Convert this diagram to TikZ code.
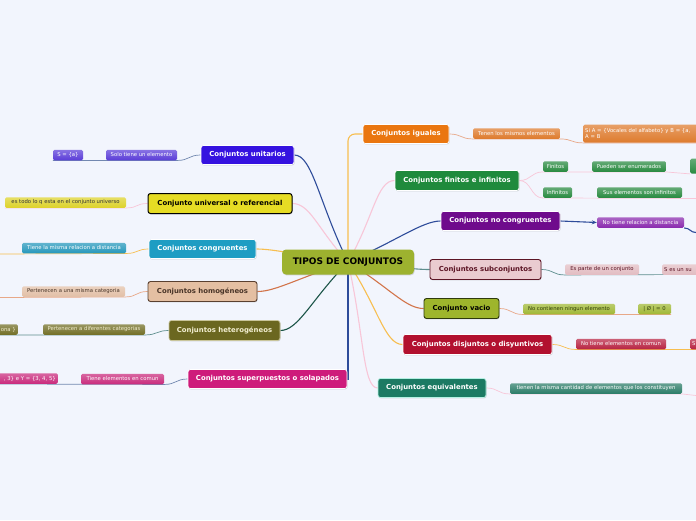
\documentclass[tikz,border=0pt]{standalone}
\usepackage{fontspec}
\newfontfamily\mapfont{DejaVu Sans}
\usetikzlibrary{positioning, arrows.meta, shadows}

\definecolor{bgc}{HTML}{F2F5FD}
\definecolor{rootc}{HTML}{9DB22F}
\definecolor{unitc}{HTML}{3512E0}
\definecolor{unitl}{HTML}{5A3CD8}
\definecolor{univc}{HTML}{E6DC24}
\definecolor{univl}{HTML}{DDD22A}
\definecolor{congc}{HTML}{1E9DC3}
\definecolor{congl}{HTML}{2597BB}
\definecolor{homoc}{HTML}{E4BFA2}
\definecolor{homol}{HTML}{E2BFA6}
\definecolor{homod}{HTML}{5A4030}
\definecolor{homot}{HTML}{4A3528}
\definecolor{hetec}{HTML}{6B6720}
\definecolor{hetel}{HTML}{726E26}
\definecolor{hetet}{HTML}{F2EED0}
\definecolor{supc}{HTML}{CE1B7B}
\definecolor{supl}{HTML}{C92A7C}
\definecolor{igualc}{HTML}{EA7610}
\definecolor{iguall}{HTML}{DE7A2C}
\definecolor{finc}{HTML}{1F8A3C}
\definecolor{finl}{HTML}{288A40}
\definecolor{noc}{HTML}{6F0B8C}
\definecolor{nol}{HTML}{8A2AAE}
\definecolor{subc}{HTML}{EACBD0}
\definecolor{subl}{HTML}{E2BCC2}
\definecolor{subd}{HTML}{5C1525}
\definecolor{vacc}{HTML}{9EB52C}
\definecolor{vacl}{HTML}{A0B834}
\definecolor{vacd}{HTML}{2E3A0C}
\definecolor{vact}{HTML}{33400C}
\definecolor{disc}{HTML}{B2102F}
\definecolor{disl}{HTML}{B82342}
\definecolor{equc}{HTML}{1C7A63}
\definecolor{equl}{HTML}{2B7C68}
\definecolor{equd}{HTML}{B4F0E2}
\definecolor{lblue}{HTML}{2E4C9A}
\definecolor{lpink}{HTML}{F8C6D8}
\definecolor{lyell}{HTML}{F7BE50}
\definecolor{lbrown}{HTML}{D2744A}
\definecolor{lteal}{HTML}{1C5548}
\definecolor{lgray}{HTML}{5E8E8E}
\definecolor{tblue}{HTML}{7288B0}
\definecolor{tpeach}{HTML}{E8A888}

\pgfdeclarelayer{bg}
\pgfdeclarelayer{lines}
\pgfsetlayers{bg,lines,main}

\tikzset{
  root/.style={rectangle, rounded corners=4pt, fill=rootc, inner sep=0pt, minimum width=132pt, minimum height=25pt, font=\mapfont\bfseries\fontsize{9}{10}\selectfont, drop shadow={shadow xshift=0.6pt, shadow yshift=-0.9pt, opacity=0.3}},
  topic/.style={rectangle, rounded corners=2.5pt, draw=white, line width=0.7pt, inner sep=0pt, text=white, font=\mapfont\bfseries\fontsize{6.9}{8}\selectfont, drop shadow={shadow xshift=0.6pt, shadow yshift=-0.9pt, opacity=0.3}},
  leaf/.style={rectangle, rounded corners=1.5pt, inner xsep=2pt, inner ysep=0pt, minimum height=10.5pt, text=white, font=\mapfont\fontsize{5.3}{6}\selectfont, top color=#1!72!white, bottom color=#1},
  link/.style={line width=1.1pt, draw=#1},
  twig/.style={line width=0.7pt, draw=#1}
}

\begin{document}
\begin{tikzpicture}[x=1pt, y=-1pt]
  \useasboundingbox (0,-1.5) rectangle (696,518.5);
  \begin{pgfonlayer}{bg}
    \fill[bgc] (0,-1.5) rectangle (696,518.5);
  \end{pgfonlayer}

  \node[root] (root) at (348,260.5) {TIPOS DE CONJUNTOS};

  \node[topic, fill=unitc, minimum width=93pt, minimum height=19pt] (unit) at (247.5,153.5) {Conjuntos unitarios};
  \node[leaf=unitl, minimum width=71pt] (unitA) at (141.5,153.5) {Solo tiene un elemento};
  \node[leaf=unitl, minimum width=30pt] (unitB) at (68,153.5) {S = \{a\}};

  \node[topic, fill=univc, draw=black, line width=1pt, text=black, minimum width=144pt, minimum height=20pt] (univ) at (220,202) {Conjunto universal o referencial};
  \node[leaf=univl, text=black!80, minimum width=121pt] (univA) at (65.5,201) {es todo lo q esta en el conjunto universo};

  \node[topic, fill=congc, minimum width=107pt, minimum height=19pt] (cong) at (202.5,247.5) {Conjuntos congruentes};
  \node[leaf=congl, minimum width=104pt] (congA) at (74,246.5) {Tiene la misma relacion a distancia};

  \node[topic, fill=homoc, draw=homod, line width=0.9pt, text=homot, minimum width=109pt, minimum height=20pt] (homo) at (202.5,290) {Conjuntos homogéneos};
  \node[leaf=homol, text=homot, minimum width=103pt] (homoA) at (73.5,290) {Pertenecen a una misma categoria};

  \node[topic, fill=hetec, draw=hetet!70!hetec, text=hetet, minimum width=111pt, minimum height=20pt] (hete) at (224.5,329) {Conjuntos heterogéneos};
  \node[leaf=hetel, text=hetet, minimum width=102pt] (heteA) at (94,328) {Pertenecen a diferentes categorias};
  \node[leaf=hetel, text=hetet, anchor=east, text width=36pt, align=right] (heteB) at (18,328) {ona \}};

  \node[topic, fill=supc, minimum width=159pt, minimum height=19pt] (super) at (267.5,377.5) {Conjuntos superpuestos o solapados};
  \node[leaf=supl, minimum width=83pt] (superA) at (122.5,377.5) {Tiene elementos en comun};
  \node[leaf=supl, anchor=east, text width=80pt, align=right] (superB) at (58,377) {, 3\} e Y = \{3, 4, 5\}};

  \node[topic, fill=igualc, minimum width=86pt, minimum height=19pt] (igual) at (406,132.5) {Conjuntos iguales};
  \node[leaf=iguall, minimum width=87pt] (igualA) at (516.5,132) {Tenen los mismos elementos};
  \node[leaf=iguall, anchor=north west, text width=150pt, align=left, minimum height=18pt] (igualB) at (583,123) {Si A = \{Vocales del alfabeto\} y B = \{a,\\A = B};

  \node[topic, fill=finc, minimum width=124pt, minimum height=20pt] (fin) at (457,179) {Conjuntos finitos e infinitos};
  \node[leaf=finl, minimum width=25pt] (finA) at (555.5,165) {Finitos};
  \node[leaf=finl, minimum width=74pt] (finB) at (629,165) {Pueden ser enumerados};
  \node[leaf=finl, anchor=north west, minimum width=24pt, minimum height=15pt] (finC) at (690,157) {};
  \node[leaf=finl, minimum width=29pt] (infA) at (557.5,191) {Infinitos};
  \node[leaf=finl, minimum width=85pt] (infB) at (639.5,191) {Sus elementos son infinitos};

  \node[topic, fill=noc, minimum width=119pt, minimum height=19pt] (nocong) at (500.5,219.5) {Conjuntos no congruentes};
  \node[leaf=nol, minimum width=87pt] (nocongA) at (640.5,221) {No tiene relacion a distancia};

  \node[topic, fill=subc, draw=subd, line width=0.9pt, text=subd, minimum width=111pt, minimum height=20pt] (subc) at (485.5,268) {Conjuntos subconjuntos};
  \node[leaf=subl, text=subd, minimum width=74pt] (subcA) at (602,268) {Es parte de un conjunto};
  \node[leaf=subl, text=subd, anchor=west, text width=46pt, align=left] (subcB) at (662,268) {S es un su};

  \node[topic, fill=vacc, draw=vacd, line width=0.9pt, text=black, minimum width=75pt, minimum height=20pt] (vac) at (461.5,307) {Conjunto vacio};
  \node[leaf=vacl, text=vact, minimum width=92pt] (vacA) at (569,307.5) {No contienen ningun elemento};
  \node[leaf=vacl, text=vact, minimum width=33pt] (vacB) at (654.5,307.5) {| Ø | = 0};

  \node[topic, fill=disc, minimum width=149pt, minimum height=20pt] (dis) at (477.5,343) {Conjuntos disjuntos o disyuntivos};
  \node[leaf=disl, minimum width=90pt] (disA) at (621,342.5) {No tiene elementos en comun};
  \node[leaf=disl, anchor=west, text width=20pt, align=left] (disB) at (690,342.5) {S};

  \node[topic, fill=equc, draw=equd, minimum width=108pt, minimum height=19pt] (equ) at (432,386.5) {Conjuntos equivalentes};
  \node[leaf=equl, minimum width=172pt] (equA) at (596,387) {tienen la misma cantidad de elementos que los constituyen};

  \coordinate (congE) at (0,252.5);
  \coordinate (homoE) at (0,296);
  \coordinate (nocongE) at (696,231);
  \coordinate (subcE) at (696,273);
  \coordinate (infE) at (696,197);
  \coordinate (equE) at (696,394);

  \begin{pgfonlayer}{lines}
    \draw[link=lblue] (root.center) .. controls +(-29,-59) and +(18,0) .. (unit.east);
    \draw[link=lpink] (root.center) .. controls +(-30,-32) and +(18,0) .. (univ.east);
    \draw[link=lyell] (root.center) .. controls +(-50,-7) and +(18,0) .. (cong.east);
    \draw[link=lbrown] (root.center) .. controls +(-50,16) and +(18,0) .. (homo.east);
    \draw[link=lteal] (root.center) .. controls +(-37,38) and +(18,0) .. (hete.east);
    \draw[link=lblue] (root.center) |- (super.east);
    \draw[link=lyell, rounded corners=7pt] (root.center) |- (igual.west);
    \draw[link=lpink] (root.center) .. controls +(26,-45) and +(-18,0) .. (fin.west);
    \draw[link=lblue] (root.center) .. controls +(50,-22) and +(-18,0) .. (nocong.west);
    \draw[link=lgray] (root.center) .. controls +(45,4) and +(-18,0) .. (subc.west);
    \draw[link=lbrown] (root.center) .. controls +(42,26) and +(-18,0) .. (vac.west);
    \draw[link=lyell] (root.center) .. controls +(30,45) and +(-18,0) .. (dis.west);
    \draw[link=lpink] (root.center) .. controls +(16,70) and +(-15,0) .. (equ.west);

    \draw[twig=tblue] (unit.west) .. controls +(-12,0) and +(12,0) .. (unitA.south east) -- (unitB.south west);
    \draw[twig=lpink] (univ.west) .. controls +(-12,0) and +(12,0) .. (univA.south east) -- (univA.south west);
    \draw[twig=lyell] (cong.west) .. controls +(-12,0) and +(12,0) .. (congA.south east) -- (congE);
    \draw[twig=tpeach] (homo.west) .. controls +(-12,0) and +(12,0) .. (homoA.south east) -- (homoE);
    \draw[twig=lgray] (hete.west) .. controls +(-12,0) and +(12,0) .. (heteA.south east) -- (heteB.south west);
    \draw[twig=tblue] (super.west) .. controls +(-12,0) and +(12,0) .. (superA.south east) -- (superB.south west);
    \draw[twig=tpeach] (igual.east) .. controls +(12,0) and +(-12,0) .. (igualA.south west) -- (igualA.south east) .. controls +(12,0) and +(-12,0) .. (igualB.south west) -- (igualB.south east);
    \draw[twig=lpink] (fin.east) .. controls +(12,0) and +(-12,0) .. (finA.south west) -- (finB.south east) .. controls +(12,0) and +(-12,0) .. (finC.south west);
    \draw[twig=lpink] (fin.east) .. controls +(12,0) and +(-12,0) .. (infA.south west) -- (infE);
    \draw[link=lblue, -{Stealth[length=5pt, width=4pt]}] (nocong.east) -- (nocongA.west);
    \draw[link=lblue] (nocongA.south east) .. controls +(6,0) and +(-6,0) .. (nocongE);
    \draw[twig=lgray] (subc.east) .. controls +(12,0) and +(-12,0) .. (subcA.south west) -- (subcE);
    \draw[twig=tpeach] (vac.east) .. controls +(12,0) and +(-12,0) .. (vacA.south west) -- (vacB.south east);
    \draw[twig=lyell] (dis.east) .. controls +(12,0) and +(-12,0) .. (disA.south west) -- (disB.south east);
    \draw[twig=lpink] (equ.east) .. controls +(12,0) and +(-12,0) .. (equA.south west) -- (equA.south east) -- (equE);
  \end{pgfonlayer}
\end{tikzpicture}
\end{document}
